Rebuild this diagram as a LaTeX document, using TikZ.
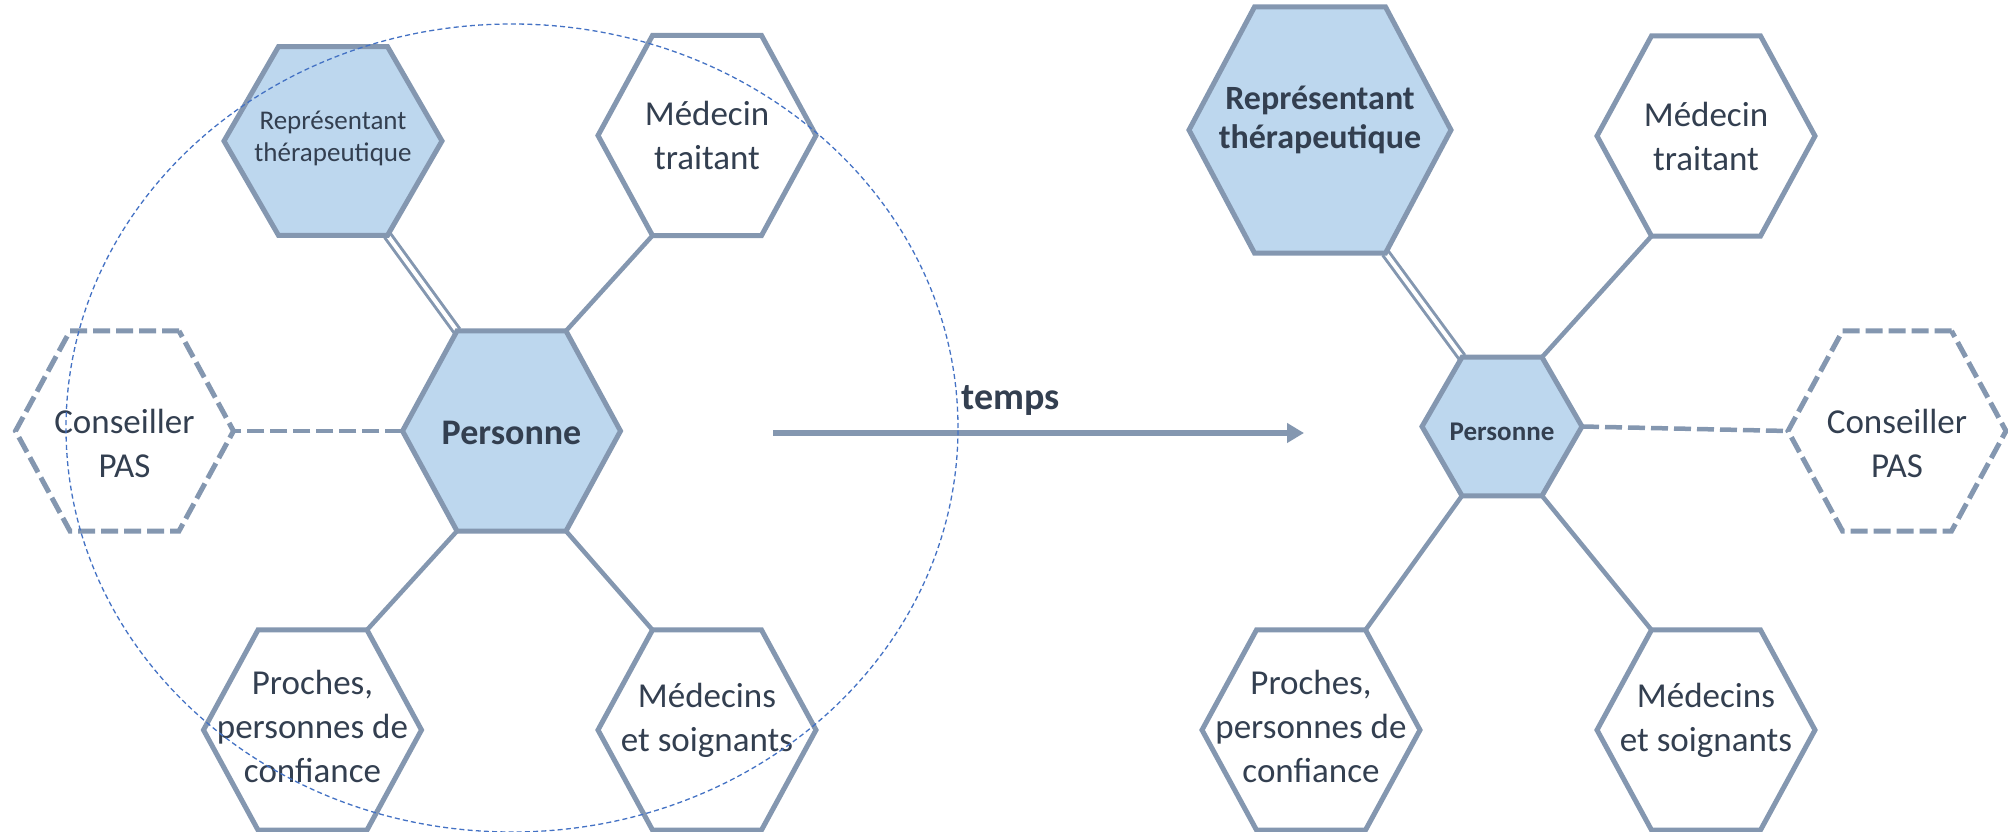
\documentclass[tikz,border=0pt]{standalone}
\usepackage{fontspec}
\setmainfont{Carlito}
\usetikzlibrary{positioning}
\usetikzlibrary{shapes.geometric}
\usetikzlibrary{arrows.meta}
\usetikzlibrary{backgrounds}
\definecolor{hexline}{HTML}{8497B0}
\definecolor{hexfill}{HTML}{BDD7EE}
\definecolor{ink}{HTML}{333F50}
\definecolor{ringblue}{HTML}{4472C4}
\tikzset{
	hexa/.style={regular polygon, regular polygon sides=6, draw=hexline, line width=2.5pt, inner sep=0pt, outer sep=0pt, minimum size=109pt},
	person/.style={hexa, fill=hexfill},
	actor/.style={hexa, fill=white},
	advisor/.style={hexa, fill=white, dash pattern=on 8.5pt off 3pt},
	% keep it last in the options, it stretches the hexagon
	tall/.style={yscale=#1},
	tall/.default=1.06,
	txt/.style={text=ink, align=center, font=\fontsize{17.5}{22}\selectfont},
	link/.style={draw=hexline, line width=2.25pt},
	twin/.style={link, double=white, double distance=2pt, line width=1.5pt},
	loose/.style={link, dash pattern=on 8.5pt off 3pt},
}

\begin{document}
\begin{tikzpicture}[x=0.5pt, y=0.5pt, node distance=0pt]
		\useasboundingbox (0,0) rectangle (2008,831);
		
		% before
		\node (persL) [person, label={[txt, font=\bfseries\fontsize{18}{22}\selectfont, yshift=-1pt]center:Personne}, tall] at (511.5,400) {};
		\node (repL) [person, above left of=persL, xshift=-89.25pt, yshift=145pt, label={[txt, font=\fontsize{13.5}{16}\selectfont, yshift=1.5pt]center:Représentant\\thérapeutique}] {};
		\node (medtL) [actor, above right of=persL, xshift=97.75pt, yshift=147.75pt, label={[txt]center:Médecin\\traitant}, tall] {};
		\node (consL) [advisor, left of=persL, xshift=-193.5pt, label={[txt, yshift=-6pt]center:Conseiller\\PAS}, tall] {};
		\node (procL) [actor, below left of=persL, xshift=-99.5pt, yshift=-149.5pt, label={[txt, yshift=1.75pt]center:Proches,\\personnes de\\confiance}, tall] {};
		\node (medsL) [actor, below right of=persL, xshift=97.75pt, yshift=-149.5pt, label={[txt, yshift=4.75pt]center:Médecins\\et soignants}, tall] {};
		
		% after
		\node (persR) [person, right of=persL, xshift=495.25pt, yshift=2.25pt, minimum size=80pt, label={[txt, font=\bfseries\fontsize{13.5}{16}\selectfont, yshift=-2.75pt]center:Personne}] {};
		\node (repR) [person, above left of=persR, xshift=-91pt, yshift=148.25pt, minimum size=131pt, label={[txt, font=\bfseries\fontsize{17}{19.5}\selectfont, yshift=5pt]center:Représentant\\thérapeutique}, tall=1.085] {};
		\node (medtR) [actor, above right of=persR, xshift=102pt, yshift=145.25pt, label={[txt]center:Médecin\\traitant}, tall] {};
		\node (consR) [advisor, right of=persR, xshift=197.5pt, yshift=-2.25pt, label={[txt, yshift=-6pt]center:Conseiller\\PAS}, tall] {};
		\node (procR) [actor, below left of=persR, xshift=-95.5pt, yshift=-151.75pt, label={[txt, yshift=1.75pt]center:Proches,\\personnes de\\confiance}, tall] {};
		\node (medsR) [actor, below right of=persR, xshift=102pt, yshift=-151.75pt, label={[txt, yshift=4.75pt]center:Médecins\\et soignants}, tall] {};
		
		\begin{scope}[on background layer]
			
			\draw[twin] (persL.120) -- (repL.300);
			\draw[link] (persL.60) -- (medtL.240);
			\draw[loose] (persL.180) -- (consL.0);
			\draw[link] (persL.240) -- (procL.60);
			\draw[link] (persL.300) -- (medsL.120);
			
			\draw[twin] (persR.120) -- (repR.300);
			\draw[link] (persR.60) -- (medtR.240);
			\draw[loose] (persR.0) -- (consR.180);
			\draw[link] (persR.240) -- (procR.60);
			\draw[link] (persR.300) -- (medsR.120);
			
		\end{scope}
		
		% time arrow
		\coordinate (t0) at (773,398);
		\coordinate (t1) at (1304,398);
		\draw[hexline, line width=2.7pt, -{Triangle[length=8.5pt, width=9.5pt]}] (t0) -- (t1);
		\node (temps) [txt, font=\bfseries\fontsize{19}{22}\selectfont, anchor=base] at (1011,421) {temps};
		
		\draw[ringblue, line width=0.65pt, dash pattern=on 2.5pt off 1.6pt] (512,403) ellipse [x radius=223pt, y radius=202pt];
		
\end{tikzpicture}
\end{document}
